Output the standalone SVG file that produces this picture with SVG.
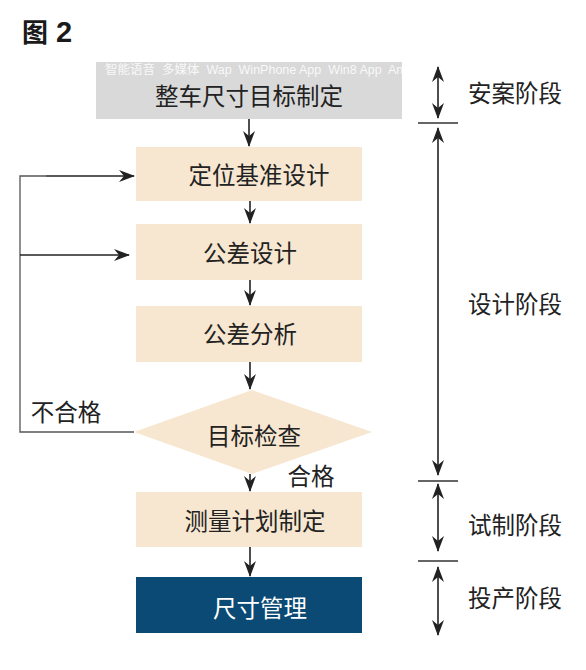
<svg xmlns="http://www.w3.org/2000/svg" width="586" height="670" viewBox="0 0 586 670">
<style>
.t{font-family:"Noto Sans CJK SC","Liberation Sans",sans-serif;font-size:23.5px;fill:#222;text-anchor:middle;dominant-baseline:central}
.box{fill:#f7e7d1}
.flow{stroke:#222;stroke-width:1.6;fill:none}
.loop{stroke:#555;stroke-width:1.3;fill:none}
.sep{stroke:#333;stroke-width:1.4}
.ttl{font-family:"Noto Sans CJK SC","Liberation Sans",sans-serif;font-weight:bold;fill:#1a1a1a}
</style>
<defs>
<marker id="ah" markerUnits="userSpaceOnUse" viewBox="0 0 16 12" refX="15" refY="6" markerWidth="16" markerHeight="12" orient="auto-start-reverse">
<path d="M0,0 L16,6 L0,12 L5,6 z" fill="#222"/>
</marker>
<clipPath id="wc"><rect x="96" y="62" width="306" height="57"/></clipPath>
</defs>
<rect width="586" height="670" fill="#fff"/>
<text class="ttl" x="22" y="42" style="font-size:26px">图</text>
<text class="ttl" x="56" y="42" style="font-family:'Liberation Sans',sans-serif;font-size:29px">2</text>

<g id="n1">
<rect x="96" y="62" width="306" height="57" fill="#d9d9d9"/>
<text x="105" y="74" clip-path="url(#wc)" style="font-family:'Liberation Sans','Noto Sans CJK SC',sans-serif;font-size:12.5px;fill:#fff;fill-opacity:0.85" xml:space="preserve">智能语音  多媒体  Wap  WinPhone App  Win8 App  Android</text>
<text class="t" x="249" y="95">整车尺寸目标制定</text>
</g>
<g id="n2"><rect class="box" x="136" y="147" width="226" height="54"/><text class="t" x="259" y="174">定位基准设计</text></g>
<g id="n3"><rect class="box" x="136" y="224" width="226" height="56"/><text class="t" x="250" y="252">公差设计</text></g>
<g id="n4"><rect class="box" x="136" y="306" width="226" height="56"/><text class="t" x="250" y="333">公差分析</text></g>
<g id="n5"><polygon class="box" points="134,432 252,390 372,432 252,474"/><text class="t" x="254" y="435">目标检查</text></g>
<g id="n6"><rect class="box" x="136" y="492" width="226" height="55"/><text class="t" x="255" y="520">测量计划制定</text></g>
<g id="n7"><rect x="136" y="577" width="226" height="56" fill="#0b4a74"/><text class="t" x="260" y="607" style="fill:#fff">尺寸管理</text></g>

<g id="connectors">
<line class="flow" x1="249" y1="119" x2="249" y2="146" marker-end="url(#ah)"/>
<line class="flow" x1="250" y1="201" x2="250" y2="223" marker-end="url(#ah)"/>
<line class="flow" x1="250" y1="280" x2="250" y2="305" marker-end="url(#ah)"/>
<line class="flow" x1="250" y1="362" x2="250" y2="389" marker-end="url(#ah)"/>
<line class="flow" x1="250" y1="474" x2="250" y2="491" marker-end="url(#ah)"/>
<line class="flow" x1="250" y1="547" x2="250" y2="576" marker-end="url(#ah)"/>
<polyline class="loop" points="134,432 20,432 20,176 46,176"/>
<line class="flow" x1="46" y1="176" x2="134" y2="176" marker-end="url(#ah)"/>
<line class="flow" x1="20" y1="255" x2="129" y2="255" marker-end="url(#ah)"/>
</g>
<text class="t" x="66" y="411">不合格</text>
<text class="t" x="311" y="475">合格</text>

<g id="stages">
<line class="sep" x1="418" y1="123" x2="458" y2="123"/>
<line class="sep" x1="418" y1="481" x2="458" y2="481"/>
<line class="sep" x1="418" y1="561" x2="458" y2="561"/>
<line class="flow" x1="438" y1="67" x2="438" y2="118" marker-start="url(#ah)" marker-end="url(#ah)"/>
<line class="flow" x1="438" y1="128" x2="438" y2="475" marker-start="url(#ah)" marker-end="url(#ah)"/>
<line class="flow" x1="438" y1="484" x2="438" y2="551" marker-start="url(#ah)" marker-end="url(#ah)"/>
<line class="flow" x1="438" y1="567" x2="438" y2="635" marker-start="url(#ah)" marker-end="url(#ah)"/>
<text class="t" x="515" y="92">安案阶段</text>
<text class="t" x="515" y="303">设计阶段</text>
<text class="t" x="515" y="524">试制阶段</text>
<text class="t" x="515" y="597">投产阶段</text>
</g>
</svg>
